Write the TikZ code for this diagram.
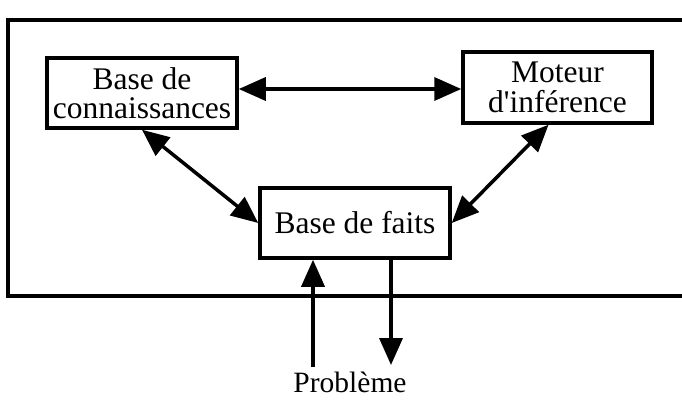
\documentclass[tikz,border=0pt]{standalone}
\usepackage{fontspec}
\setmainfont{Liberation Serif}[Ligatures=TeXOff]
\usetikzlibrary{arrows.meta,calc}
\begin{document}
\begin{tikzpicture}[x=1pt,y=-1pt,
  box/.style={draw,line width=3.5pt,minimum width=190pt,minimum height=70pt,inner sep=0pt,align=center,
    font=\fontsize{31.5}{29.5}\selectfont},
  link/.style={line width=3.5pt,-{Triangle[length=27pt,width=23pt]}},
  blink/.style={line width=3.5pt,{Triangle[length=27pt,width=23pt]}-{Triangle[length=27pt,width=23pt]}},
  frame/.style={line width=3.5pt}]
\useasboundingbox (0,0) rectangle (682,401);
\draw[frame] (682,20) -- (8,20) -- (8,296) -- (682,296);
\node[box] (kb) at (142,93) {Base de\\connaissances};
\node[box,minimum width=189pt,minimum height=71pt] (me) at (557.5,87.5) {Moteur\\d'inférence};
\node[box] (bf) at (355,223) {Base de faits};
\draw[blink] ($(kb.east)+(0,-4)$) -- ($(me.west)+(0,1.5)$);
\draw[blink] (kb.south) -- (bf.west);
\draw[blink] ($(me.south)+(-9,0)$) -- (bf.east);
\coordinate (pin) at (313,367);
\coordinate (pout) at (391,365);
\draw[link] (pin) -- (pin |- bf.south);
\draw[link] (pout |- bf.south) -- (pout);
\node[anchor=base,font=\fontsize{29.5}{30}\selectfont,inner sep=0pt] (pb) at (350,392) {Problème};
\end{tikzpicture}
\end{document}
